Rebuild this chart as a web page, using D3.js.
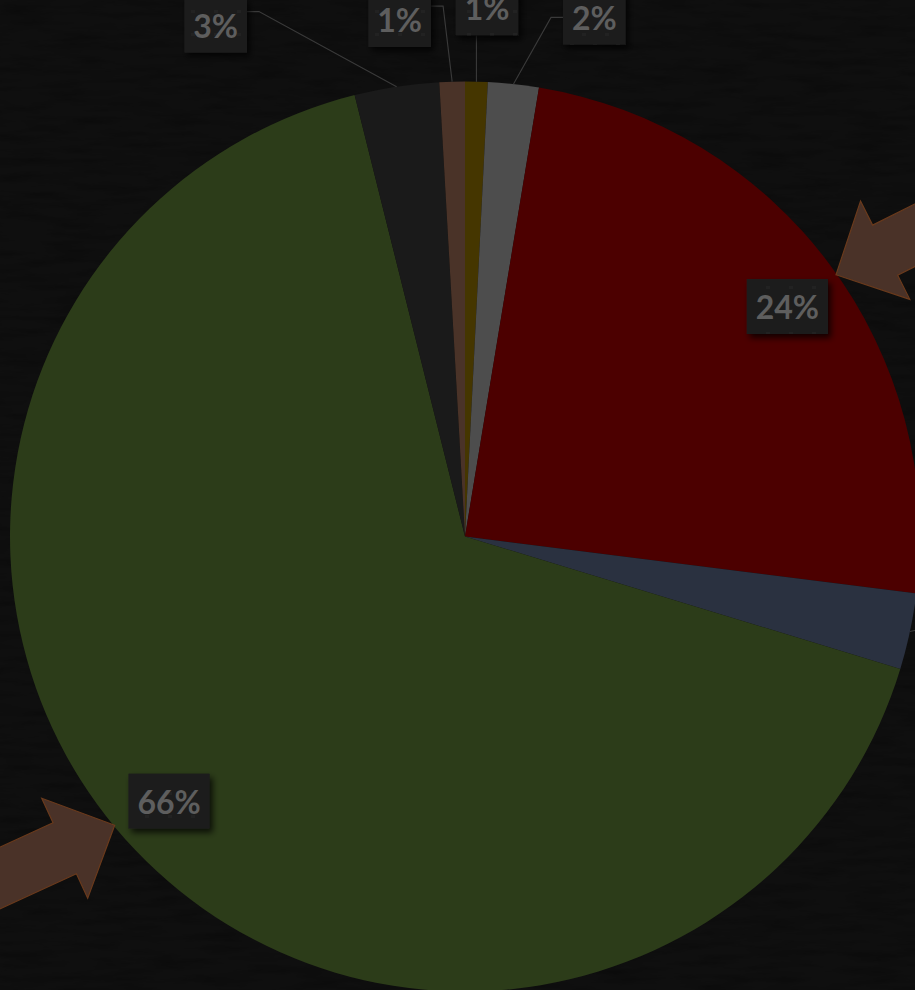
<!DOCTYPE html>
<html>
<head>
<meta charset="utf-8">
<script src="https://cdn.jsdelivr.net/npm/d3@7"></script>
<style>
  html, body { margin: 0; padding: 0; background: #0d0d0d; overflow: hidden; }
  svg { display: block; }
</style>
</head>
<body>
<svg id="chart" width="915" height="990"></svg>
<script>
// ---- data ----
const categories = ["Segment A", "Segment B", "Segment C", "Segment D", "Segment E", "Segment F", "Segment G"];
const values     = [0.8, 1.8, 24.4, 2.7, 66.4, 3.0, 0.9];

// ---- appearance ----
const sliceColors = ["#453600", "#4d4d4d", "#4c0000", "#2a3140", "#2c3c19", "#1a1a1a", "#4a3328"];
// label anchor per slice: [angle in degrees clockwise from 12 o'clock, distance from centre]
const labelAnchors = [[2.4, 529], [14, 535], [54.5, 396], [97, 590], [228.2, 397], [334, 569], [352.8, 521]];
// call-out arrows: angle of the tip on the rim, and heading of the arrow in degrees
const arrowCallouts = [{ at: 54.8, heading: 153.4 }, { at: 230.5, heading: -24.7 }];

const W = 915, H = 990;
const cx = 465, cy = 536.5, R = 455;

const svg = d3.select("#chart");
const defs = svg.append("defs");

// textured dark backdrop
const tex = defs.append("filter").attr("id", "grain")
  .attr("x", 0).attr("y", 0).attr("width", "100%").attr("height", "100%");
tex.append("feTurbulence").attr("type", "fractalNoise")
  .attr("baseFrequency", "0.02 0.12").attr("numOctaves", 4).attr("seed", 11);
tex.append("feColorMatrix").attr("type", "matrix")
  .attr("values", "0 0 0 0 0  0 0 0 0 0  0 0 0 0 0  0 0 0 -1.4 0.85");
tex.append("feComponentTransfer").append("feFuncA").attr("type", "linear").attr("slope", 0.35);

svg.append("rect").attr("width", W).attr("height", H).attr("fill", "#0f0f0f");
svg.append("rect").attr("width", W).attr("height", H).attr("filter", "url(#grain)");

// label box texture + shadow
const pat = defs.append("pattern").attr("id", "boxPat")
  .attr("patternUnits", "userSpaceOnUse").attr("width", 23).attr("height", 23);
pat.append("rect").attr("width", 23).attr("height", 23).attr("fill", "#1a1a1a");
pat.append("rect").attr("x", 2).attr("y", 2).attr("width", 4).attr("height", 4).attr("fill", "#202020");
pat.append("rect").attr("x", 13).attr("y", 13).attr("width", 4).attr("height", 4).attr("fill", "#1e1e1e");

const shadow = defs.append("filter").attr("id", "boxShadow")
  .attr("x", "-30%").attr("y", "-30%").attr("width", "170%").attr("height", "170%");
shadow.append("feDropShadow").attr("dx", 3).attr("dy", 4).attr("stdDeviation", 3)
  .attr("flood-color", "#000").attr("flood-opacity", 0.75);

// ---- pie ----
const pie = d3.pie().sort(null).value(d => d).startAngle(0).endAngle(2 * Math.PI);
const arcs = pie(values);
const arc = d3.arc().innerRadius(0).outerRadius(R);
const total = d3.sum(values);

const g = svg.append("g").attr("transform", `translate(${cx},${cy})`);

g.selectAll("path.slice").data(arcs).join("path")
  .attr("class", "slice")
  .attr("d", arc)
  .attr("fill", (d, i) => sliceColors[i]);

// ---- arrows pointing at the two large slices ----
const arrowShape = [[0, 0], [-55, -55], [-55, -28], [-230, -28], [-230, 28], [-55, 28], [-55, 55]];
const arrowLine = d3.line();
g.selectAll("path.arrow").data(arrowCallouts).join("path")
  .attr("class", "arrow")
  .attr("d", arrowLine(arrowShape) + "Z")
  .attr("transform", d => {
    const [x, y] = d3.pointRadial(d.at * Math.PI / 180, R - 1);
    return `translate(${x},${y}) rotate(${d.heading})`;
  })
  .attr("fill", "#4a3228")
  .attr("stroke", "#6a3a1c")
  .attr("stroke-width", 1.2)
  .attr("stroke-linejoin", "miter");

// ---- data labels ----
const labelG = g.append("g");
const fmt = v => Math.round(v / total * 100) + "%";

arcs.forEach((d, i) => {
  const [ang, rad] = labelAnchors[i];
  const [lx, ly] = d3.pointRadial(ang * Math.PI / 180, rad);
  const mid = (d.startAngle + d.endAngle) / 2;
  const outside = rad > R;

  const grp = labelG.append("g");
  const txt = grp.append("text")
    .attr("x", lx).attr("y", ly)
    .attr("text-anchor", "middle")
    .attr("dominant-baseline", "central")
    .attr("font-family", "Lato, 'Open Sans', sans-serif")
    .attr("font-weight", 700)
    .attr("font-size", 32)
    .attr("fill", "#5e5e5e")
    .text(fmt(d.value));
  const bb = txt.node().getBBox();
  const bw = bb.width + 18, bh = 55;
  const bx = lx - bw / 2, by = ly - bh / 2;
  grp.insert("rect", "text")
    .attr("x", bx).attr("y", by).attr("width", bw).attr("height", bh)
    .attr("fill", "url(#boxPat)")
    .attr("filter", "url(#boxShadow)");

  if (outside) {
    const [px, py] = d3.pointRadial(mid, R);
    let pts;
    if (px < bx) {
      pts = [[px, py], [bx - 12, ly], [bx, ly]];
    } else if (px > bx + bw) {
      pts = [[px, py], [bx + bw + 12, by + 14], [bx + bw, by + 14]];
    } else {
      pts = [[px, py], [px, by + bh]];
    }
    labelG.insert("path", ":first-child")
      .attr("d", d3.line()(pts))
      .attr("fill", "none")
      .attr("stroke", "#3a3a3a")
      .attr("stroke-width", 1.1);
  }
});
</script>
</body>
</html>
